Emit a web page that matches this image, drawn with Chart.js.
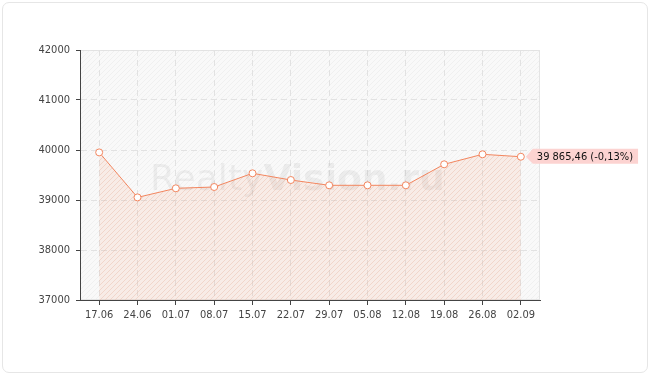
<!DOCTYPE html>
<html>
<head>
<meta charset="utf-8">
<script src="https://cdn.jsdelivr.net/npm/chart.js@4.4.1/dist/chart.umd.min.js"></script>
<style>
  html, body { margin: 0; padding: 0; background: #fff; }
  #frame { position: absolute; left: 2px; top: 2px; width: 644px; height: 369px;
           border: 1px solid #e6e6e6; border-radius: 7px; }
  #myChart { position: absolute; left: 0; top: 0; }
</style>
</head>
<body>
<div id="frame"></div>
<canvas id="myChart" width="650" height="375"></canvas>
<script>
	var labels = ["17.06","24.06","01.07","08.07","15.07","22.07","29.07","05.08","12.08","19.08","26.08","02.09"];
	var values = [39952, 39052, 39234, 39260, 39534, 39400, 39294, 39294, 39294, 39714, 39914, 39865.46];
	var yTicks = [37000, 38000, 39000, 40000, 41000, 42000];
	var lastLabel = "39 865,46 (-0,13%)";

	var lineColor = "#f3865f";
	var tickFont = "'DejaVu Sans Condensed', 'Liberation Sans', sans-serif";

	// diagonal "/" hatch tiles
	function hatch(bg, fg, size) {
	    var c = document.createElement("canvas");
	    c.width = size; c.height = size;
	    var g = c.getContext("2d");
	    g.fillStyle = bg;
	    g.fillRect(0, 0, size, size);
	    g.strokeStyle = fg;
	    g.lineWidth = 1;
	    g.beginPath();
	    g.moveTo(0, size); g.lineTo(size, 0);
	    g.moveTo(-1, 1); g.lineTo(1, -1);
	    g.moveTo(size - 1, size + 1); g.lineTo(size + 1, size - 1);
	    g.stroke();
	    return g.createPattern(c, "repeat");
	}
	var bgPattern = hatch("#f9f9f9", "#f0f0f0", 5);
	var fillPattern = hatch("rgba(243,134,95,0.11)", "rgba(243,134,95,0.16)", 5);

	var plotDecor = {
	    id: "plotDecor",
	    beforeDraw: function(chart) {
	        var a = chart.chartArea, ctx = chart.ctx;
	        ctx.save();
	        ctx.fillStyle = bgPattern;
	        ctx.fillRect(a.left, a.top, a.right - a.left, a.bottom - a.top);
	        ctx.strokeStyle = "#e4e4e4";
	        ctx.lineWidth = 1;
	        ctx.strokeRect(a.left + 0.5, a.top + 0.5, a.right - a.left - 1, a.bottom - a.top - 1);
	        ctx.restore();
	    },
	    beforeDatasetsDraw: function(chart) {
	        // watermark
	        var ctx = chart.ctx;
	        ctx.save();
	        ctx.fillStyle = "rgba(0,0,0,0.05)";
	        ctx.textBaseline = "alphabetic";
	        var size = 46;
	        ctx.font = size + "px 'DejaVu Sans'";
	        var w1 = ctx.measureText("Realty").width;
	        ctx.font = "bold " + size + "px 'DejaVu Sans'";
	        var w2 = ctx.measureText("Vision.ru").width;
	        var k = 295 / (w1 + w2);
	        size = size * k;
	        var x = 150, y = 190;
	        ctx.font = size + "px 'DejaVu Sans'";
	        ctx.fillText("Realty", x, y);
	        x += ctx.measureText("Realty").width;
	        ctx.font = "bold " + size + "px 'DejaVu Sans'";
	        ctx.fillText("Vision.ru", x, y);
	        ctx.restore();
	    },
	    afterDatasetsDraw: function(chart) {
	        var ctx = chart.ctx;
	        var pts = chart.getDatasetMeta(0).data;
	        var p = pts[pts.length - 1];
	        ctx.save();
	        ctx.font = "11px " + tickFont;
	        var tw = ctx.measureText(lastLabel).width;
	        var tip = p.x + 5, base = p.x + 12, right = base + tw + 9;
	        var top = p.y - 8, bot = p.y + 7;
	        ctx.fillStyle = "#fcd3d1";
	        ctx.beginPath();
	        ctx.moveTo(tip, p.y);
	        ctx.lineTo(base, top);
	        ctx.lineTo(right, top);
	        ctx.lineTo(right, bot);
	        ctx.lineTo(base, bot);
	        ctx.closePath();
	        ctx.fill();
	        ctx.fillStyle = "#111";
	        ctx.textBaseline = "middle";
	        ctx.fillText(lastLabel, base + 4, p.y);
	        ctx.restore();
	    }
	};

	var ctx = document.getElementById("myChart");

	var myChart = new Chart(ctx, {
	    type: "line",
	    data: {
	        labels: labels,
	        datasets: [{
	            data: values,
	            borderColor: lineColor,
	            borderWidth: 1,
	            backgroundColor: fillPattern,
	            fill: "start",
	            tension: 0,
	            pointRadius: 3.5,
	            pointBorderWidth: 1,
	            pointBackgroundColor: "#ffffff",
	            pointBorderColor: lineColor
	        }]
	    },
	    plugins: [plotDecor],
	    options: {
	        responsive: false,
	        animation: false,
	        layout: { padding: { top: 50, right: 110, bottom: 0, left: 0 } },
	        plugins: { legend: { display: false }, tooltip: { enabled: false } },
	        scales: {
	            x: {
	                offset: true,
	                grid: { offset: false, color: "#e2e2e2", tickColor: "#444", tickLength: 5, drawTicks: true },
	                border: { color: "#444", dash: [6, 4] },
	                ticks: { color: "#444", padding: 4, maxRotation: 0, autoSkip: false,
	                         font: { family: tickFont, size: 11 } },
	                afterFit: function(s) { s.height = 75; }
	            },
	            y: {
	                min: 37000,
	                max: 42000,
	                afterBuildTicks: function(s) { s.ticks = yTicks.map(function(v) { return { value: v }; }); },
	                grid: { color: "#e2e2e2", tickColor: "#444", tickLength: 4 },
	                border: { color: "#444", dash: [6, 4] },
	                ticks: { color: "#444", padding: 6, font: { family: tickFont, size: 11 },
	                         callback: function(v) { return String(v); } },
	                afterFit: function(s) { s.width = 80; }
	            }
	        }
	    }
	});
</script>
</body>
</html>
